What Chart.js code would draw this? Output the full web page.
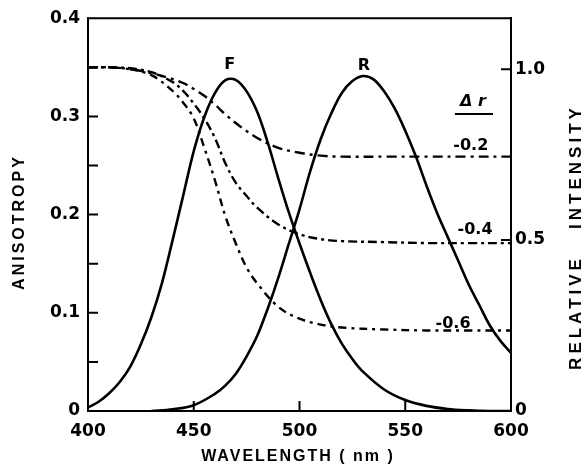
<!DOCTYPE html>
<html>
<head>
<meta charset="utf-8">
<script src="https://cdn.jsdelivr.net/npm/chart.js@4.4.1/dist/chart.umd.min.js"></script>
<style>
  html, body { margin: 0; padding: 0; background: #fff; }
  canvas { display: block; }
</style>
</head>
<body>
<canvas id="aniso-chart" width="588" height="471"></canvas>
<script>
// wavelength (nm) -> relative intensity, fluorescence (F) and R band
var wlF  = [400, 405, 410, 415, 420, 425, 430, 435, 440, 445, 450, 455, 460, 465, 470, 475, 480, 485, 490, 495, 500, 505, 510, 515, 520, 525, 530, 540, 550, 560, 570, 580, 590, 600];
var relF = [0.01, 0.027, 0.052, 0.085, 0.13, 0.195, 0.275, 0.375, 0.50, 0.63, 0.76, 0.86, 0.93, 0.968, 0.968, 0.935, 0.875, 0.785, 0.68, 0.58, 0.49, 0.405, 0.325, 0.255, 0.197, 0.152, 0.115, 0.063, 0.032, 0.015, 0.006, 0.002, 0, 0];

var wlR  = [430, 440, 450, 460, 465, 470, 475, 480, 485, 490, 495, 500, 505, 510, 515, 520, 525, 530, 535, 540, 545, 550, 555, 560, 565, 570, 575, 580, 585, 590, 595, 600];
var relR = [0, 0.005, 0.017, 0.05, 0.075, 0.11, 0.16, 0.22, 0.30, 0.39, 0.49, 0.59, 0.70, 0.795, 0.87, 0.93, 0.965, 0.98, 0.97, 0.935, 0.885, 0.82, 0.745, 0.66, 0.58, 0.51, 0.44, 0.37, 0.31, 0.25, 0.205, 0.17];

// wavelength (nm) -> anisotropy for the three delta r values
var wlAniso = [400, 410, 420, 430, 440, 445, 450, 455, 460, 465, 470, 475, 480, 490, 500, 510, 520, 540, 560, 580, 600];
var aniso02 = [0.350, 0.350, 0.348, 0.344, 0.338, 0.334, 0.328, 0.321, 0.312, 0.302, 0.293, 0.285, 0.278, 0.268, 0.263, 0.260, 0.259, 0.259, 0.259, 0.259, 0.259];
var aniso04 = [0.350, 0.350, 0.349, 0.345, 0.335, 0.326, 0.313, 0.298, 0.278, 0.252, 0.232, 0.219, 0.207, 0.190, 0.180, 0.175, 0.173, 0.172, 0.171, 0.171, 0.171];
var aniso06 = [0.350, 0.350, 0.348, 0.342, 0.326, 0.314, 0.298, 0.268, 0.235, 0.198, 0.170, 0.146, 0.130, 0.106, 0.094, 0.088, 0.085, 0.083, 0.082, 0.082, 0.082];

var xTicks = [400, 450, 500, 550, 600];
var anisoTicks = [0, 0.05, 0.1, 0.15, 0.2, 0.25, 0.3, 0.35, 0.4];
var intensityTicks = [0, 0.5, 1.0];

function pts(xs, ys) {
  return xs.map(function (v, i) { return { x: v, y: ys[i] }; });
}

var TICK = 10;
var tickFont = { family: "'DejaVu Sans'", size: 17, weight: 'bold' };

// frame top, inward ticks, curve labels and axis titles
var decorations = {
  id: 'decorations',
  afterDraw: function (chart) {
    var ctx = chart.ctx, a = chart.chartArea;
    var x = chart.scales.x, yA = chart.scales.yA, yI = chart.scales.yI;
    ctx.save();
    ctx.strokeStyle = '#000';
    ctx.lineWidth = 2;
    ctx.beginPath();
    ctx.moveTo(a.left - 1, a.top);
    ctx.lineTo(a.right + 1, a.top);
    x.ticks.forEach(function (t) {
      var p = x.getPixelForValue(t.value);
      ctx.moveTo(p, a.bottom); ctx.lineTo(p, a.bottom - TICK);
    });
    yA.ticks.forEach(function (t) {
      var p = yA.getPixelForValue(t.value);
      ctx.moveTo(a.left, p); ctx.lineTo(a.left + TICK, p);
    });
    yI.ticks.forEach(function (t) {
      var p = yI.getPixelForValue(t.value);
      ctx.moveTo(a.right, p); ctx.lineTo(a.right - TICK, p);
    });
    ctx.stroke();

    ctx.fillStyle = '#000';
    ctx.textAlign = 'center';
    ctx.textBaseline = 'middle';
    ctx.font = "bold 16px 'DejaVu Sans'";
    function label(txt, wl, r) {
      ctx.fillText(txt, x.getPixelForValue(wl), yA.getPixelForValue(r));
    }
    label('F', 467, 0.353);
    label('R', 530.5, 0.351);
    label('-0.2', 581, 0.270);
    label('-0.4', 583, 0.184);
    label('-0.6', 572.6, 0.089);
    ctx.font = "italic bold 16px 'DejaVu Sans'";
    label('\u0394 r', 582, 0.315);
    ctx.beginPath();
    ctx.moveTo(x.getPixelForValue(573.5), yA.getPixelForValue(0.3025));
    ctx.lineTo(x.getPixelForValue(591.5), yA.getPixelForValue(0.3025));
    ctx.stroke();

    ctx.font = "bold 16px 'Liberation Sans'";
    ctx.letterSpacing = '2px';
    ctx.fillText('WAVELENGTH ( nm )', 298, 457);
    ctx.save();
    ctx.translate(20, 222);
    ctx.rotate(-Math.PI / 2);
    ctx.letterSpacing = '3px';
    ctx.fillText('ANISOTROPY', 0, 0);
    ctx.restore();
    ctx.save();
    ctx.translate(576, 237);
    ctx.rotate(-Math.PI / 2);
    ctx.font = "bold 17px 'Liberation Sans'";
    ctx.letterSpacing = '4px';
    ctx.fillText('RELATIVE   INTENSITY', 0, 0);
    ctx.restore();
    ctx.restore();
  }
};

function anisoSet(label, data, dash) {
  return {
    label: label, data: pts(wlAniso, data), yAxisID: 'yA',
    borderColor: '#000', borderWidth: 2.4, borderDash: dash,
    pointRadius: 0, tension: 0.35, fill: false
  };
}

function bandSet(label, xs, ys) {
  return {
    label: label, data: pts(xs, ys), yAxisID: 'yI',
    borderColor: '#000', borderWidth: 2.6,
    pointRadius: 0, tension: 0.35, fill: false
  };
}

new Chart(document.getElementById('aniso-chart'), {
  type: 'line',
  data: {
    datasets: [
      bandSet('F', wlF, relF),
      bandSet('R', wlR, relR),
      anisoSet('-0.2', aniso02, [10, 5, 3, 5]),
      anisoSet('-0.4', aniso04, [9, 4, 3, 4]),
      anisoSet('-0.6', aniso06, [8, 5, 3, 5])
    ]
  },
  options: {
    responsive: false,
    animation: false,
    layout: { padding: { top: 17, left: 0, right: 0, bottom: 0 } },
    plugins: { legend: { display: false }, tooltip: { enabled: false } },
    scales: {
      x: {
        type: 'linear', min: 400, max: 600,
        afterBuildTicks: function (s) { s.ticks = xTicks.map(function (v) { return { value: v }; }); },
        afterFit: function (s) { s.height = 60; },
        grid: { display: false, drawTicks: false },
        border: { display: true, color: '#000', width: 2 },
        ticks: { color: '#000', font: tickFont, padding: 10, maxRotation: 0 }
      },
      yA: {
        position: 'left', min: 0, max: 0.4,
        afterBuildTicks: function (s) { s.ticks = anisoTicks.map(function (v) { return { value: v }; }); },
        afterFit: function (s) { s.width = 88; },
        grid: { display: false, drawTicks: false },
        border: { display: true, color: '#000', width: 2 },
        ticks: {
          color: '#000', font: tickFont, padding: 8,
          callback: function (v) {
            var k = Math.round(v * 100);
            if (k % 10 !== 0) return '';
            return k === 0 ? '0' : (v).toFixed(1);
          }
        }
      },
      yI: {
        position: 'right', min: 0, max: 1.149,
        afterBuildTicks: function (s) { s.ticks = intensityTicks.map(function (v) { return { value: v }; }); },
        afterFit: function (s) { s.width = 77; },
        grid: { display: false, drawTicks: false },
        border: { display: true, color: '#000', width: 2 },
        ticks: {
          color: '#000', font: tickFont, padding: 4,
          callback: function (v) { return v === 0 ? '0' : v.toFixed(1); }
        }
      }
    }
  },
  plugins: [decorations]
});
</script>
</body>
</html>
